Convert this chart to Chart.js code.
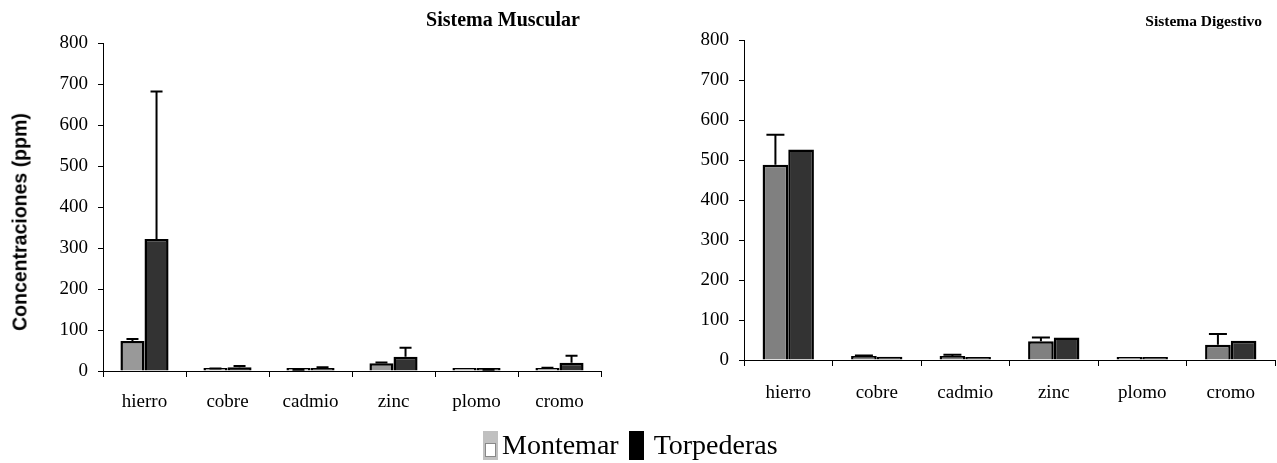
<!DOCTYPE html>
<html>
<head>
<meta charset="utf-8">
<script src="https://cdn.jsdelivr.net/npm/chart.js@4.4.1/dist/chart.umd.min.js"></script>
<style>
    body { margin: 0; background: #fff; width: 1277px; height: 463px; overflow: hidden; position: relative; }
    .wrap { position: absolute; top: 0; }
    .title { position: absolute; font-weight: bold; font-family: 'Liberation Serif', 'Times New Roman', serif; color: #000; white-space: nowrap; }
    .ytitle { position: absolute; left: 20px; top: 222px; transform: translate(-50%, -50%) rotate(-90deg);
              font: bold 19.5px 'Liberation Sans', Arial, sans-serif; color: #000; white-space: nowrap; }
    .legend { position: absolute; left: 483px; top: 429px; display: flex; align-items: center; font: 28px 'Liberation Serif', 'Times New Roman', serif; color: #000; }
    .legend .box { width: 15px; height: 29px; margin-right: 4px; position: relative; }
    .legend .grey { background: #c0c0c0; }
    .legend .grey span { position: absolute; left: 2px; top: 12px; width: 9px; height: 12px; border: 1px solid #888; background: #fff; }
    .legend .black { background: #000; margin-left: 10px; margin-right: 10px; }
</style>
</head>
<body>
<div class="wrap" style="left:0;width:640px;height:430px"><canvas id="muscular"></canvas></div>
<div class="wrap" style="left:640px;width:637px;height:430px"><canvas id="digestivo"></canvas></div>
<div class="title" style="right:697px;top:8px;font-size:20px">Sistema Muscular</div>
<div class="title" style="right:15px;top:12px;font-size:15.5px">Sistema Digestivo</div>
<div class="ytitle">Concentraciones (ppm)</div>
<div class="legend">
    <div class="box grey"><span></span></div>Montemar
    <div class="box black"></div>Torpederas
</div>
<script>
// datos (ppm)
const categories = ['hierro', 'cobre', 'cadmio', 'zinc', 'plomo', 'cromo'];
const yTicks = [0, 100, 200, 300, 400, 500, 600, 700, 800];

const muscMontemar = [73, 5, 2, 19, 1, 7];
const muscMontemarErr = [5, 1, 1, 2, 0, 1];
const muscTorpederas = [322, 9, 6, 35, 2, 20];
const muscTorpederasErr = [360, 3, 3, 22, 1, 17];

const digMontemar = [488, 10, 10, 47, 2, 38];
const digMontemarErr = [75, 1, 3, 9, 0, 27];
const digTorpederas = [526, 8, 6, 56, 2, 48];
const digTorpederasErr = [0, 0, 0, 0, 0, 0];

const serif = "'Liberation Serif', 'Times New Roman', serif";

// barras de error (solo hacia arriba)
const errorBars = {
    id: 'errorBars',
    afterDatasetsDraw(chart, args, opts) {
        const ctx = chart.ctx;
        const y = chart.scales.y;
        chart.data.datasets.forEach((ds, i) => {
            if (!ds.errors) return;
            chart.getDatasetMeta(i).data.forEach((bar, j) => {
                const err = ds.errors[j];
                if (!err) return;
                const top = y.getPixelForValue(ds.data[j] + err);
                ctx.save();
                ctx.strokeStyle = '#000';
                ctx.lineWidth = 2;
                ctx.beginPath();
                ctx.moveTo(bar.x, bar.y);
                ctx.lineTo(bar.x, top);
                ctx.moveTo(bar.x - opts.cap / 2, top);
                ctx.lineTo(bar.x + opts.cap / 2, top);
                ctx.stroke();
                ctx.restore();
            });
        });
    }
};

function makeChart(id, cfg) {
    return new Chart(document.getElementById(id), {
        type: 'bar',
        data: {
            labels: categories,
            datasets: [
                { label: 'Montemar', data: cfg.m, errors: cfg.mErr, backgroundColor: cfg.mColor,
                  borderColor: '#000', borderWidth: 2.5, borderSkipped: 'bottom', minBarLength: 3 },
                { label: 'Torpederas', data: cfg.t, errors: cfg.tErr, backgroundColor: '#333333',
                  borderColor: '#000', borderWidth: 2.5, borderSkipped: 'bottom', minBarLength: 3 }
            ]
        },
        options: {
            responsive: true,
            maintainAspectRatio: false,
            animation: false,
            layout: { padding: cfg.padding },
            categoryPercentage: 0.58,
            barPercentage: 1.0,
            plugins: {
                legend: { display: false },
                tooltip: { enabled: false },
                errorBars: { cap: cfg.cap }
            },
            scales: {
                x: {
                    grid: { drawOnChartArea: false, offset: true, color: '#000', tickLength: 6 },
                    border: { color: '#000', width: 1 },
                    ticks: { color: '#000', padding: cfg.xPad, font: { family: serif, size: 19 } },
                    afterFit: (s) => { s.height = cfg.xHeight; }
                },
                y: {
                    min: 0,
                    max: 800,
                    afterBuildTicks: (s) => { s.ticks = yTicks.map(v => ({ value: v })); },
                    grid: { drawOnChartArea: false, color: '#000', tickLength: 5 },
                    border: { color: '#000', width: 1 },
                    ticks: { color: '#000', padding: 10, font: { family: serif, size: 19 } },
                    afterFit: (s) => { s.width = cfg.yWidth; }
                }
            }
        },
        plugins: [errorBars]
    });
}

makeChart('muscular', {
    m: muscMontemar, mErr: muscMontemarErr, t: muscTorpederas, tErr: muscTorpederasErr,
    mColor: '#999999', cap: 12,
    padding: { top: 43, right: 39, bottom: 0, left: 0 },
    yWidth: 103, xHeight: 59, xPad: 14
});

makeChart('digestivo', {
    m: digMontemar, mErr: digMontemarErr, t: digTorpederas, tErr: digTorpederasErr,
    mColor: '#808080', cap: 18,
    padding: { top: 40, right: 2, bottom: 0, left: 0 },
    yWidth: 104, xHeight: 70, xPad: 16
});
</script>
</body>
</html>
